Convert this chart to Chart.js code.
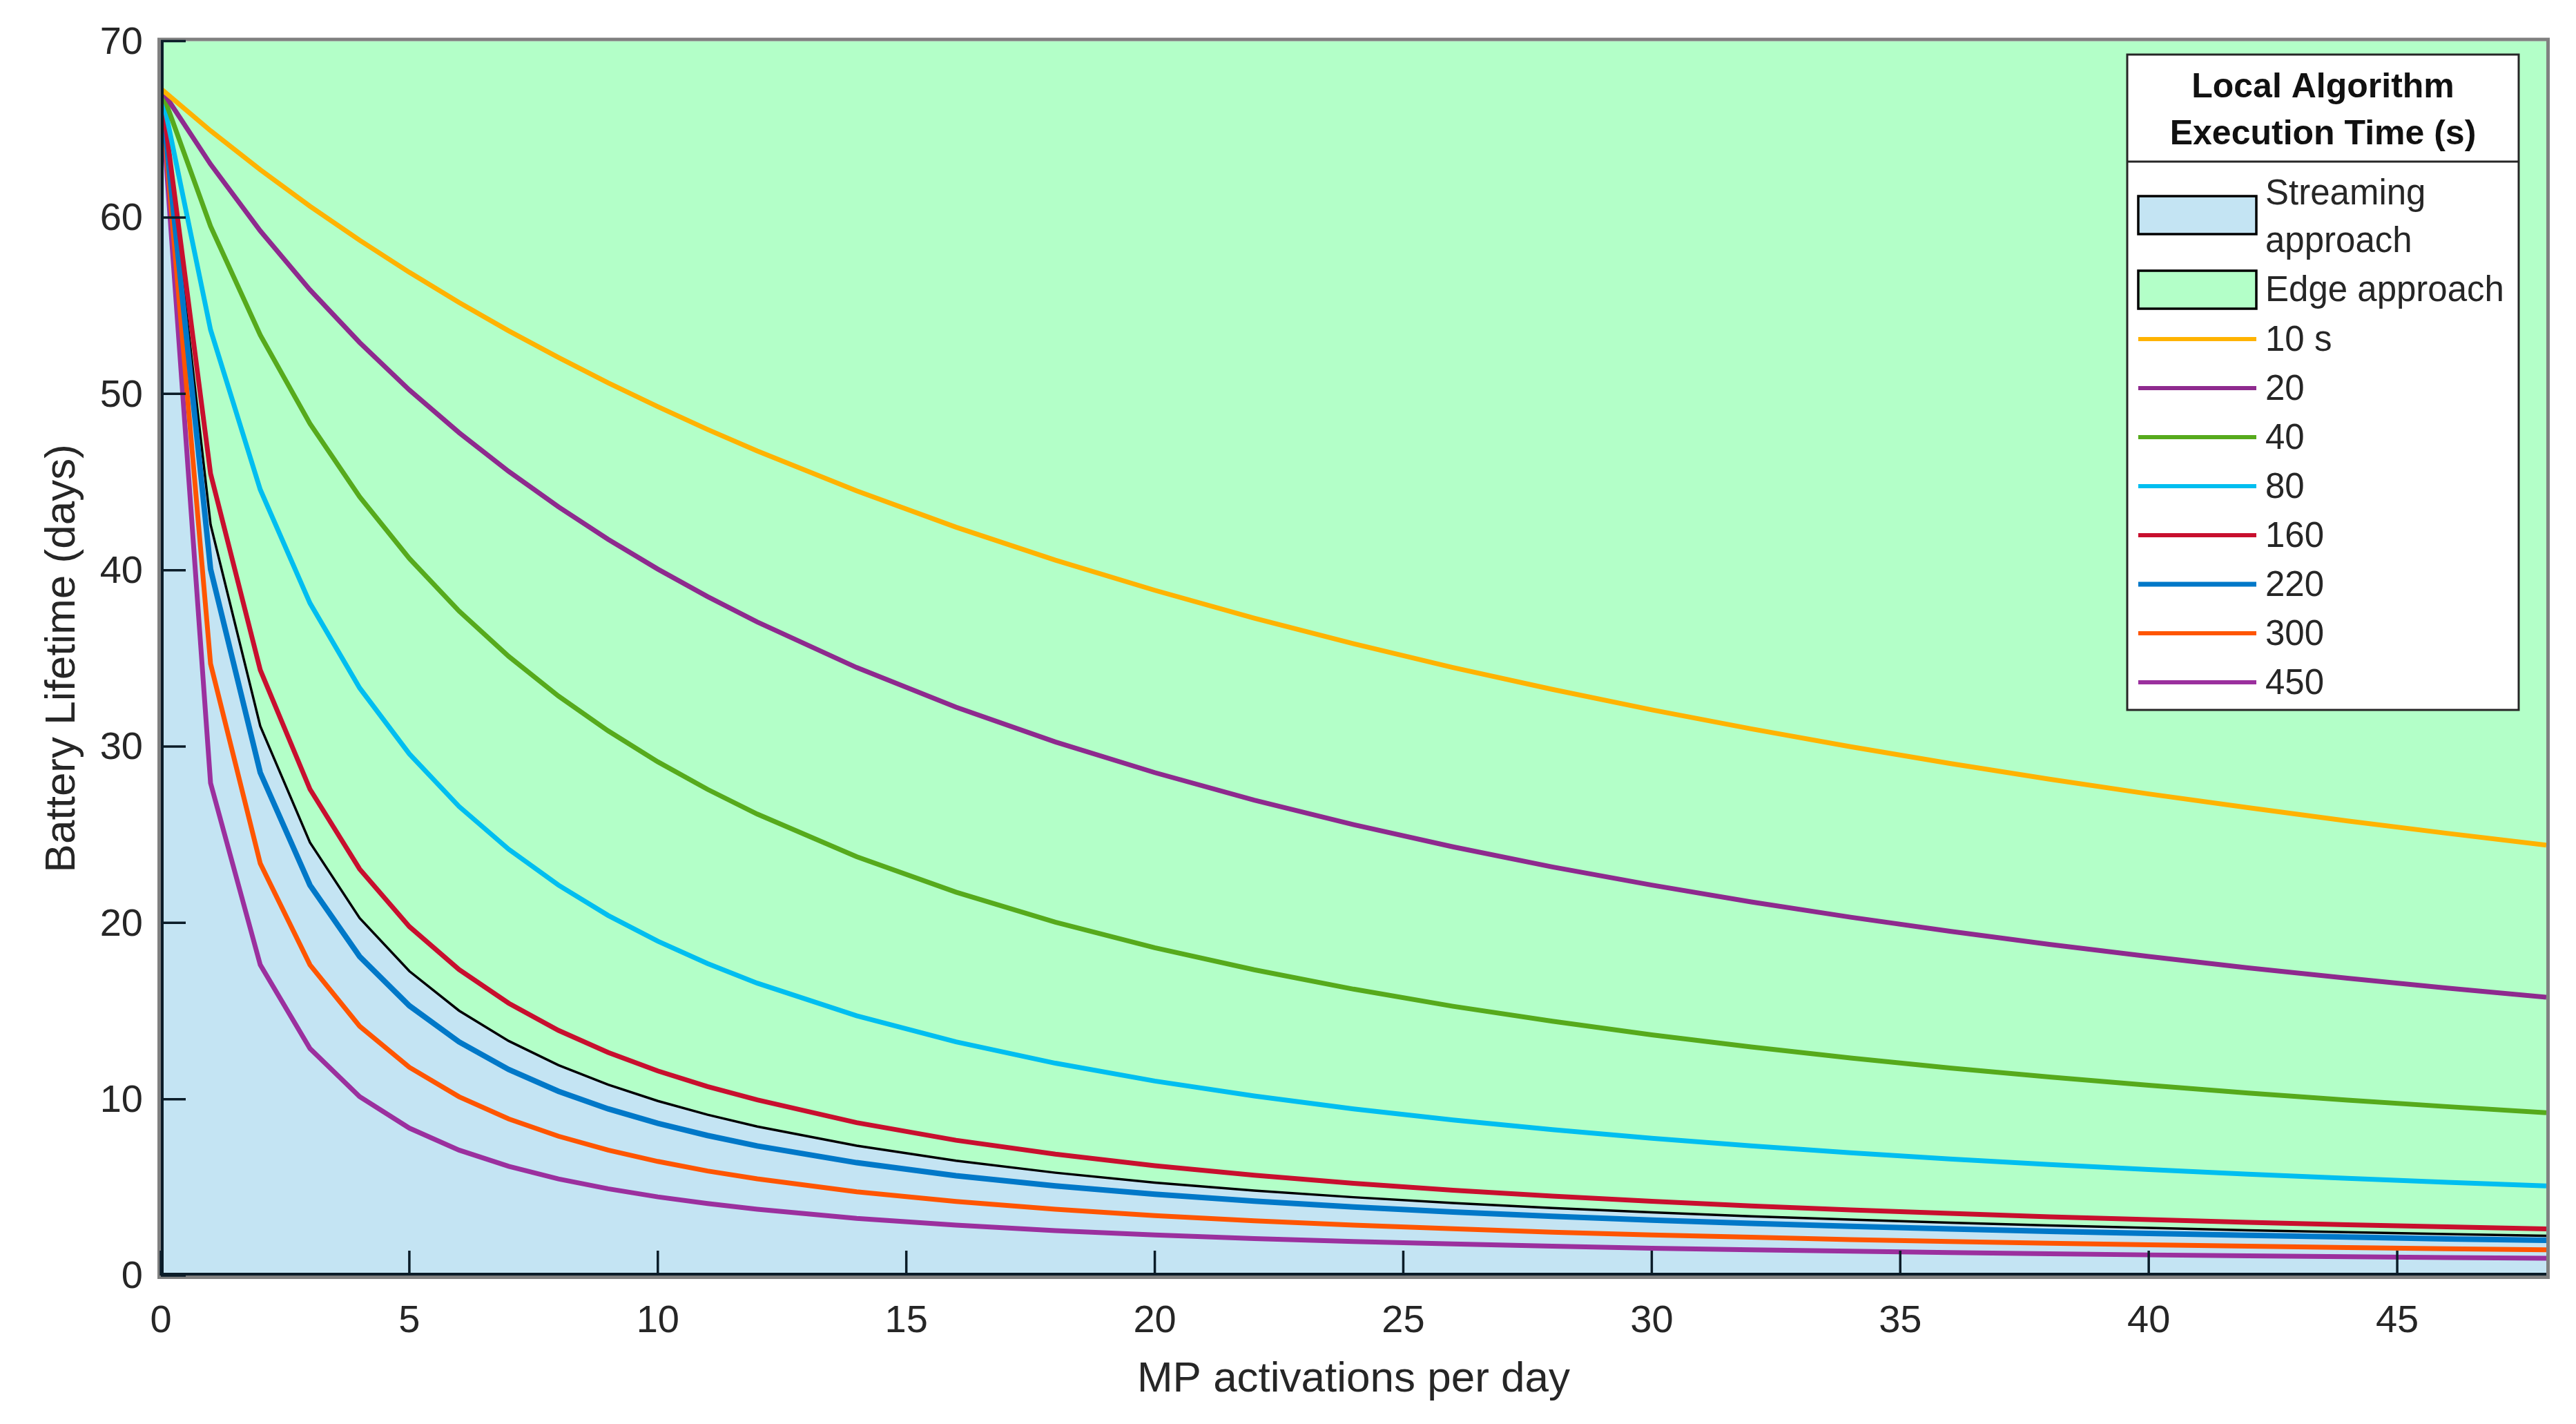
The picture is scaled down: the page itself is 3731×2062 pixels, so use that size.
<!DOCTYPE html>
<html>
<head>
<meta charset="utf-8">
<script src="https://cdn.jsdelivr.net/npm/chart.js@4.4.1/dist/chart.umd.min.js"></script>
<style>
html,body{margin:0;padding:0;background:#fff;}
#wrap{width:3731px;height:2062px;position:relative;}
canvas{display:block;}
</style>
</head>
<body>
<div id="wrap"><canvas id="c" width="3731" height="2062"></canvas></div>
<script>
// ---- data ----
const activations = [0,1,2,3,4,5,6,7,8,9,10,11,12,14,16,18,20,22,24,26,28,30,32,34,36,38,40,42,44,46,48];
const life10  = [67.3,64.92,62.71,60.64,58.71,56.89,55.18,53.57,52.06,50.62,49.27,47.98,46.76,44.50,42.44,40.57,38.86,37.28,35.83,34.48,33.24,32.08,31.00,29.99,29.04,28.15,27.31,26.53,25.78,25.08,24.41];
const life20  = [67.3,63.02,59.24,55.90,52.91,50.22,47.80,45.60,43.59,41.75,40.06,38.50,37.06,34.48,32.23,30.26,28.52,26.96,25.57,24.31,23.17,22.14,21.19,20.32,19.52,18.78,18.09,17.45,16.86,16.30,15.78];
const life40  = [67.3,59.50,53.33,48.31,44.16,40.66,37.68,35.11,32.86,30.89,29.13,27.57,26.17,23.75,21.74,20.04,18.59,17.34,16.24,15.27,14.42,13.65,12.96,12.34,11.77,11.26,10.79,10.35,9.95,9.58,9.23];
const life80  = [67.3,53.63,44.57,38.13,33.32,29.58,26.60,24.17,22.14,20.42,18.96,17.69,16.58,14.73,13.25,12.04,11.03,10.18,9.45,8.82,8.27,7.78,7.35,6.96,6.61,6.30,6.01,5.75,5.51,5.29,5.08];
const life160 = [67.3,45.47,34.34,27.58,23.05,19.79,17.35,15.44,13.90,12.65,11.60,10.72,9.96,8.67,7.67,6.88,6.23,5.69,5.23,4.84,4.50,4.21,3.95,3.72,3.52,3.33,3.17,3.02,2.88,2.76,2.64];
const lifeStreaming = [67.3,42.59,31.16,24.56,20.27,17.26,15.02,13.30,11.93,10.82,9.90,9.12,8.45,7.36,6.51,5.83,5.27,4.82,4.44,4.11,3.83,3.58,3.36,3.17,3.00,2.84,2.70,2.57,2.46,2.35,2.25];
const life220 = [67.3,40.06,28.52,22.14,18.09,15.30,13.25,11.68,10.45,9.45,8.63,7.94,7.35,6.40,5.66,5.08,4.61,4.22,3.89,3.60,3.36,3.14,2.96,2.79,2.64,2.51,2.39,2.28,2.18,2.08,2.00];
const life300 = [67.3,34.69,23.37,17.62,14.14,11.81,10.14,8.88,7.90,7.11,6.47,5.93,5.48,4.75,4.20,3.76,3.40,3.10,2.86,2.65,2.46,2.30,2.17,2.04,1.93,1.83,1.74,1.66,1.59,1.52,1.46];
const life450 = [67.3,27.93,17.62,12.87,10.14,8.36,7.11,6.19,5.48,4.92,4.46,4.08,3.76,3.24,2.86,2.55,2.30,2.10,1.93,1.79,1.66,1.55,1.46,1.38,1.30,1.23,1.17,1.12,1.07,1.02,0.98];

const seriesLabels = ['10 s','20','40','80','160','220','300','450'];
const seriesValues = [life10, life20, life40, life80, life160, life220, life300, life450];
const seriesColors = ['#FFB300','#8E2A8E','#56AA1C','#00BEF0','#C80F2E','#0078C8','#FF5500','#9B309E'];
const seriesWidths = [7,7,7,7,7,8,7,7];

const xTicksStep = 5, xMax = 48;
const yTicksStep = 10, yMax = 70;
const legendTitle = ['Local Algorithm','Execution Time (s)'];
const streamingLabel = ['Streaming','approach'];
const edgeLabel = 'Edge approach';
const xTitle = 'MP activations per day';
const yTitle = 'Battery Lifetime (days)';

const streamFill = '#C4E4F3';
const edgeFill = '#B3FFC8';
const axisDark = '#0B1C28';
const textColor = '#262626';
const FONT = "'Liberation Sans', Arial, sans-serif";

const toPts = arr => activations.map((x, i) => ({x: x, y: arr[i]}));

const datasets = [{
  label: 'Streaming approach',
  data: toPts(lifeStreaming),
  borderColor: '#000000',
  borderWidth: 3.5,
  backgroundColor: streamFill,
  fill: 'origin',
  pointRadius: 0,
  tension: 0,
  order: 5
}];
seriesLabels.forEach((lab, i) => {
  datasets.push({
    label: lab,
    data: toPts(seriesValues[i]),
    borderColor: seriesColors[i],
    borderWidth: seriesWidths[i],
    fill: false,
    pointRadius: 0,
    tension: 0,
    order: 1
  });
});

const bgPlugin = {
  id: 'edgeBg',
  beforeDraw(chart) {
    const {ctx, chartArea: a} = chart;
    ctx.save();
    ctx.fillStyle = '#ffffff';
    ctx.fillRect(0, 0, chart.width, chart.height);
    ctx.fillStyle = edgeFill;
    ctx.fillRect(a.left, a.top, a.right - a.left, a.bottom - a.top);
    ctx.restore();
  }
};

const framePlugin = {
  id: 'frame',
  afterDatasetsDraw(chart) {
    const {ctx, chartArea: a, scales} = chart;
    const xs = scales.x, ys = scales.y;
    ctx.save();
    // grey box
    ctx.strokeStyle = '#808080';
    ctx.lineWidth = 5;
    ctx.strokeRect(a.left - 2.5, a.top - 2.5, a.right - a.left + 5, a.bottom - a.top + 5);
    // dark axis lines (left & bottom)
    ctx.strokeStyle = axisDark;
    ctx.lineWidth = 4;
    ctx.beginPath();
    ctx.moveTo(a.left + 2, a.top);
    ctx.lineTo(a.left + 2, a.bottom);
    ctx.moveTo(a.left, a.bottom - 2);
    ctx.lineTo(a.right, a.bottom - 2);
    ctx.stroke();
    // inward ticks
    ctx.lineWidth = 3.5;
    ctx.beginPath();
    ys.ticks.forEach(t => {
      const py = ys.getPixelForValue(t.value);
      ctx.moveTo(a.left, py);
      ctx.lineTo(a.left + 36, py);
    });
    xs.ticks.forEach(t => {
      const px = xs.getPixelForValue(t.value);
      ctx.moveTo(px, a.bottom);
      ctx.lineTo(px, a.bottom - 36);
    });
    ctx.stroke();
    ctx.restore();
  }
};

const legendPlugin = {
  id: 'customLegend',
  afterDraw(chart) {
    const ctx = chart.ctx;
    const bx = 3081, by = 79, bw = 567, bh = 949;
    ctx.save();
    ctx.fillStyle = '#ffffff';
    ctx.fillRect(bx, by, bw, bh);
    ctx.strokeStyle = '#262626';
    ctx.lineWidth = 3;
    ctx.strokeRect(bx, by, bw, bh);
    // title
    ctx.fillStyle = '#111111';
    ctx.font = 'bold 50px ' + FONT;
    ctx.textAlign = 'center';
    ctx.textBaseline = 'middle';
    ctx.fillText(legendTitle[0], bx + bw / 2, 127);
    ctx.fillText(legendTitle[1], bx + bw / 2, 195);
    ctx.beginPath();
    ctx.moveTo(bx, 234);
    ctx.lineTo(bx + bw, 234);
    ctx.stroke();
    // entries
    const sx0 = 3097, sx1 = 3268, tx = 3281;
    ctx.font = '51px ' + FONT;
    ctx.textAlign = 'left';
    // streaming patch
    ctx.fillStyle = streamFill;
    ctx.fillRect(sx0, 284, sx1 - sx0, 55);
    ctx.strokeStyle = '#000000';
    ctx.lineWidth = 3.5;
    ctx.strokeRect(sx0, 284, sx1 - sx0, 55);
    ctx.fillStyle = textColor;
    ctx.fillText(streamingLabel[0], tx, 282);
    ctx.fillText(streamingLabel[1], tx, 351);
    // edge patch
    ctx.fillStyle = edgeFill;
    ctx.fillRect(sx0, 392, sx1 - sx0, 55);
    ctx.strokeRect(sx0, 392, sx1 - sx0, 55);
    ctx.fillStyle = textColor;
    ctx.fillText(edgeLabel, tx, 422);
    // line entries
    const ds = chart.data.datasets.slice(1);
    ds.forEach((d, i) => {
      const yy = 491 + i * 71;
      ctx.strokeStyle = d.borderColor;
      ctx.lineWidth = d.borderWidth - 1;
      ctx.beginPath();
      ctx.moveTo(sx0, yy);
      ctx.lineTo(sx1, yy);
      ctx.stroke();
      ctx.fillStyle = textColor;
      ctx.fillText(d.label, tx, yy + 3);
    });
    ctx.restore();
  }
};

Chart.defaults.font.family = FONT;
Chart.defaults.color = textColor;

new Chart(document.getElementById('c'), {
  type: 'line',
  data: {datasets: datasets},
  options: {
    responsive: false,
    animation: false,
    devicePixelRatio: 1,
    layout: {padding: {top: 47, right: 43, left: 0, bottom: 0}},
    plugins: {
      legend: {display: false},
      tooltip: {enabled: false},
      filler: {drawTime: 'beforeDatasetsDraw'}
    },
    scales: {
      x: {
        type: 'linear',
        min: 0,
        max: xMax,
        grid: {display: false, drawTicks: false},
        border: {display: false},
        ticks: {stepSize: xTicksStep, includeBounds: false, padding: 33, color: textColor, font: {size: 56}, maxRotation: 0},
        title: {display: true, text: xTitle, color: textColor, font: {size: 62}, padding: {top: 0, bottom: 27}},
        afterFit(scale) { scale.height = 2062 - 1847; }
      },
      y: {
        type: 'linear',
        min: 0,
        max: yMax,
        grid: {display: false, drawTicks: false},
        border: {display: false},
        ticks: {stepSize: yTicksStep, padding: 26, labelOffset: 3, color: textColor, font: {size: 56}},
        title: {display: true, text: yTitle, color: textColor, font: {size: 62}, padding: {top: 54, bottom: 0}},
        afterFit(scale) { scale.width = 233; }
      }
    }
  },
  plugins: [bgPlugin, framePlugin, legendPlugin]
});
</script>
</body>
</html>
